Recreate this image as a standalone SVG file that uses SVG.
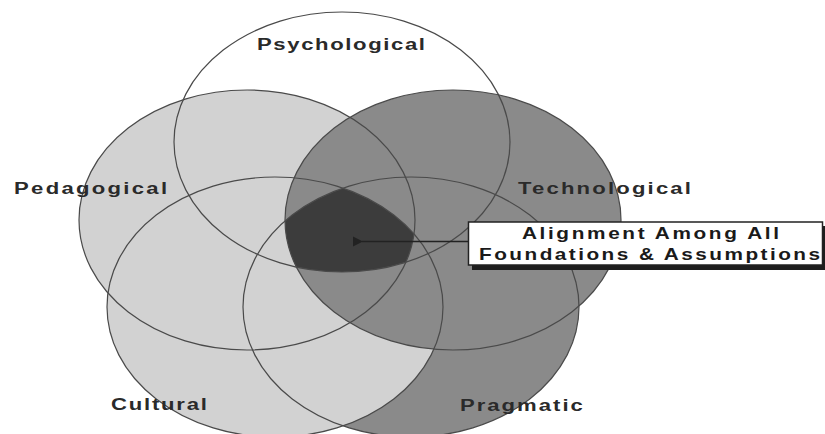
<svg xmlns="http://www.w3.org/2000/svg" width="825" height="434" viewBox="0 0 825 434">
<style>
.light{fill:#d2d2d2}
.dark{fill:#8a8a8a}
.core{fill:#3c3c3c}
.ring{fill:none;stroke:#4a4a4a;stroke-width:1.2}
.lbl{font-family:"Liberation Sans",Arial,sans-serif;font-weight:bold;font-size:17px;fill:#2a2a2a}
.box{font-family:"Liberation Sans",Arial,sans-serif;font-weight:bold;font-size:16px;fill:#1a1a1a}
</style>
<defs>
<clipPath id="cPsy"><ellipse cx="342" cy="142" rx="168" ry="130"/></clipPath>
<clipPath id="cPed"><ellipse cx="247" cy="220" rx="168" ry="130"/></clipPath>
<clipPath id="cTec"><ellipse cx="453" cy="220" rx="168" ry="130"/></clipPath>
<clipPath id="cCul"><ellipse cx="275" cy="307" rx="168" ry="130"/></clipPath>
<marker id="ah" viewBox="0 0 10 10" refX="1" refY="5" markerWidth="7" markerHeight="7" orient="auto">
<path d="M10,0 L0,5 L10,10 z" fill="#222"/>
</marker>
</defs>
<rect width="825" height="434" fill="#ffffff"/>
<g id="fills">
<ellipse class="dark" cx="411" cy="307" rx="168" ry="130"/>
<ellipse class="light" cx="247" cy="220" rx="168" ry="130"/>
<ellipse class="light" cx="275" cy="307" rx="168" ry="130"/>
<ellipse class="dark" cx="453" cy="220" rx="168" ry="130"/>
</g>
<g id="alignment-core" clip-path="url(#cPsy)"><g clip-path="url(#cPed)"><g clip-path="url(#cTec)"><g clip-path="url(#cCul)">
<ellipse class="core" cx="411" cy="307" rx="168" ry="130"/>
</g></g></g></g>
<g id="pragmatic">
<ellipse class="ring" cx="411" cy="307" rx="168" ry="130"/>
<text class="lbl" transform="scale(1.3,1)" x="353.8" y="411" textLength="94.6" lengthAdjust="spacing">Pragmatic</text>
</g>
<g id="cultural">
<ellipse class="ring" cx="275" cy="307" rx="168" ry="130"/>
<text class="lbl" transform="scale(1.3,1)" x="85.4" y="410" textLength="73.8" lengthAdjust="spacing">Cultural</text>
</g>
<g id="pedagogical">
<ellipse class="ring" cx="247" cy="220" rx="168" ry="130"/>
<text class="lbl" transform="scale(1.3,1)" x="10.8" y="194" textLength="117.7" lengthAdjust="spacing">Pedagogical</text>
</g>
<g id="technological">
<ellipse class="ring" cx="453" cy="220" rx="168" ry="130"/>
<text class="lbl" transform="scale(1.3,1)" x="398.5" y="194" textLength="133" lengthAdjust="spacing">Technological</text>
</g>
<g id="psychological">
<ellipse class="ring" cx="342" cy="142" rx="168" ry="130"/>
<text class="lbl" transform="scale(1.3,1)" x="197.7" y="50" textLength="129.2" lengthAdjust="spacing">Psychological</text>
</g>
<g id="connectors">
<line x1="469" y1="241.5" x2="362" y2="241.5" stroke="#222" stroke-width="1.5" marker-end="url(#ah)"/>
</g>
<g id="alignment-label">
<rect x="472" y="226" width="353" height="44" fill="#1e1e1e"/>
<rect x="468.5" y="222" width="354" height="43" fill="#ffffff" stroke="#222" stroke-width="1.5"/>
<text class="box" transform="scale(1.3,1)" x="401.5" y="239" textLength="197.7" lengthAdjust="spacing">Alignment Among All</text>
<text class="box" transform="scale(1.3,1)" x="368.5" y="260" textLength="262.3" lengthAdjust="spacing">Foundations &amp; Assumptions</text>
</g>
</svg>
